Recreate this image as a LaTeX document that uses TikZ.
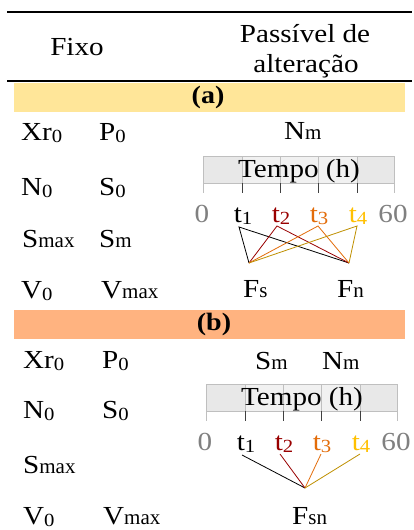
\documentclass[tikz,border=0pt]{standalone}
\usepackage{fontspec}
\setmainfont{Liberation Serif}[FakeStretch=1.12]
\newfontfamily\subrm{Liberation Serif}
\definecolor{bandA}{HTML}{FFE699}
\definecolor{bandB}{HTML}{FFB380}
\definecolor{cellend}{HTML}{E8E8E8}
\definecolor{cellmid}{HTML}{F1F1F1}
\definecolor{cellborder}{HTML}{BFBFBF}
\definecolor{axisgray}{HTML}{808080}
\definecolor{tickdark}{HTML}{404040}
\definecolor{ctwo}{HTML}{990000}
\definecolor{cthree}{HTML}{E36C09}
\definecolor{cfour}{HTML}{FFC000}
\definecolor{cfourline}{HTML}{BF9000}
\newcommand{\zs}[1]{\raisebox{-2.5pt}{\fontsize{18.5}{18}\selectfont #1}}
\newcommand{\ts}[1]{{\subrm\fontsize{21}{21}\selectfont #1}}
\newcommand{\timeline}[3]{%
 \begin{scope}[shift={(#2,#3)}]
  \fill[cellend] (203,156) rectangle (242,183);
  \fill[cellmid] (242,156) rectangle (357,183);
  \fill[cellend] (357,156) rectangle (394,183);
  \draw[cellborder, line width=0.8pt] (203,156) rectangle (394,183);
  \foreach \x in {242,280,318,357} \draw[cellborder, line width=0.8pt] (\x,156) -- (\x,183);
  \draw[cellborder, line width=0.8pt] (203,183) -- (203,193) (394,183) -- (394,193);
  \foreach \x in {242,280,318,357} \draw[tickdark, line width=0.9pt] (\x,183) -- (\x,193);
  \node[anchor=base] (#1tempo) at (299,177) {Tempo (h)};
  \node[anchor=base, text=axisgray] (#1zero) at (202,222) {0};
  \node[anchor=base] (#1t1) at (243,222) {t\zs{1}};
  \node[anchor=base, text=ctwo] (#1t2) at (281,222) {t\zs{2}};
  \node[anchor=base, text=cthree] (#1t3) at (319,222) {t\zs{3}};
  \node[anchor=base, text=cfour] (#1t4) at (358,222) {t\zs{4}};
  \node[anchor=base, text=axisgray] (#1sixty) at (393,222) {60};
  \coordinate (#1c1) at (239,227);
  \coordinate (#1c2) at (277,226);
  \coordinate (#1c3) at (318,226);
  \coordinate (#1c4) at (357,226);
 \end{scope}}
\begin{document}
\begin{tikzpicture}[x=1pt,y=-1pt,
  every node/.style={inner sep=0pt, font=\fontsize{26}{30}\selectfont},
  lbl/.style={anchor=base west},
  rule/.style={line width=1.5pt},
  lone/.style={black, line width=0.8pt},
  ltwo/.style={ctwo, line width=0.8pt},
  lthree/.style={cthree, line width=0.8pt},
  lfour/.style={cfourline, line width=0.8pt}]
\useasboundingbox (0,0) rectangle (413,530);
\fill[white] (0,0) rectangle (413,530);
% header
\draw[rule] (7,12) -- (412,12);
\node[anchor=base] (fixo) at (77,55) {Fixo};
\node[anchor=base] (pass1) at (305,42) {Passível de};
\node[anchor=base] (pass2) at (306,72) {alteração};
\draw[rule] (7,81) -- (412,81);
% band a
\fill[bandA] (14,83) rectangle (405,112);
\node[font=\fontsize{25}{30}\selectfont\bfseries] (laba) at (208,97.5) {(a)};
\node[lbl] (axr) at (21,140) {Xr\zs{0}};
\node[lbl] (ap) at (99,140) {P\zs{0}};
\node[lbl] (an) at (21,195) {N\zs{0}};
\node[lbl] (as) at (99,195) {S\zs{0}};
\node[lbl] (asmax) at (22,247) {S\ts{max}};
\node[lbl] (asm) at (99,247) {S\ts{m}};
\node[lbl] (av) at (21,298) {V\zs{0}};
\node[lbl] (avmax) at (101,298) {V\ts{max}};
\node[lbl] (anm) at (284,139) {N\ts{m}};
\node[lbl] (fs) at (243,297) {F\ts{s}};
\node[lbl] (fn) at (337,297) {F\ts{n}};
\coordinate (fstop) at (249,263);
\coordinate (fntop) at (349,263);
\timeline{a}{0}{0}
\draw[lone] (fstop) -- (ac1) -- (fntop);
\draw[ltwo] (fstop) -- (ac2) -- (fntop);
\draw[lthree] (fstop) -- (ac3) -- (fntop);
\draw[lfour] (fstop) -- (ac4) -- (fntop);
% band b
\fill[bandB] (14,310) rectangle (405,339);
\node[font=\fontsize{25}{30}\selectfont\bfseries] (labb) at (214,324) {(b)};
\node[lbl] (bxr) at (23,368) {Xr\zs{0}};
\node[lbl] (bp) at (102,368) {P\zs{0}};
\node[lbl] (bn) at (23,418) {N\zs{0}};
\node[lbl] (bs) at (102,418) {S\zs{0}};
\node[lbl] (bsmax) at (23,473) {S\ts{max}};
\node[lbl] (bv) at (23,524) {V\zs{0}};
\node[lbl] (bvmax) at (103,524) {V\ts{max}};
\node[lbl] (bsm) at (255,369) {S\ts{m}};
\node[lbl] (bnm) at (322,369) {N\ts{m}};
\node[lbl] (fsn) at (292,524) {F\ts{sn}};
\coordinate (fsntop) at (305,488);
\timeline{b}{3}{228}
\draw[lone] (bc1) -- (fsntop);
\draw[ltwo] (bc2) -- (fsntop);
\draw[lthree] (bc3) -- (fsntop);
\draw[lfour] (bc4) -- (fsntop);
\end{tikzpicture}
\end{document}
